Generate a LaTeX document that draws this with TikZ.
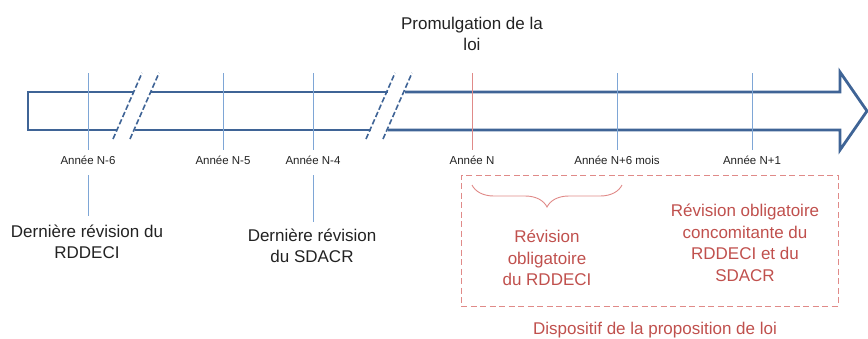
\documentclass[tikz,border=0pt]{standalone}
\usepackage{fontspec}
\setmainfont{Liberation Sans}
\usetikzlibrary{decorations.pathreplacing}
\definecolor{arrowblue}{HTML}{3F6496}
\definecolor{tickblue}{HTML}{7EA6D6}
\definecolor{txtred}{HTML}{C0504D}
\definecolor{lightred}{HTML}{E08A88}
\definecolor{txtgray}{HTML}{222222}
\tikzset{
  body/.style={draw=arrowblue, line width=2.8pt, line join=miter},
  cut/.style={draw=arrowblue, line width=1.6pt, dash pattern=on 5.5pt off 2.5pt},
  tick/.style={draw=tickblue, line width=0.9pt},
  redtick/.style={draw=lightred, line width=0.9pt},
  small/.style={font=\fontsize{11.5}{14}\selectfont, text=txtgray, inner sep=0pt},
  big/.style={font=\fontsize{17}{21.5}\selectfont, text=txtgray, align=center, inner sep=0pt},
  bigred/.style={big, text=txtred},
  redbox/.style={draw=lightred, line width=1pt, dash pattern=on 6pt off 3.5pt},
}
\begin{document}
\begin{tikzpicture}[x=1pt,y=-1pt]
\useasboundingbox (0,0) rectangle (868,338);
\clip (0,0) rectangle (868,338);
% arrow body pieces
\coordinate (t1a) at (28,92);   \coordinate (t1b) at (133.5,92);
\coordinate (b1a) at (28,130);  \coordinate (b1b) at (117,130);
\coordinate (t2a) at (151,92);  \coordinate (t2b) at (388,92);
\coordinate (b2a) at (134.5,130); \coordinate (b2b) at (371,130);
\coordinate (t3a) at (405,92);  \coordinate (b3a) at (388,130);
\coordinate (hb) at (840,92);   \coordinate (hbb) at (840,130);
\coordinate (ht) at (840,72);   \coordinate (hbt) at (840,150);
\coordinate (tip) at (867,111);
\draw[body] (t1b) -- (t1a) -- (b1a) -- (b1b);
\draw[body, line cap=butt] (t2a) -- (t2b);
\draw[body, line cap=butt] (b2a) -- (b2b);
\draw[body] (t3a) -- (hb) -- (ht) -- (tip) -- (hbt) -- (hbb) -- (b3a);
% break marks
\coordinate (c1s) at (113,139); \coordinate (c1e) at (142,73);
\coordinate (c2s) at (130,139); \coordinate (c2e) at (159,73);
\coordinate (c3s) at (366,139); \coordinate (c3e) at (395,73);
\coordinate (c4s) at (383,139); \coordinate (c4e) at (412,73);
\draw[cut] (c1s) -- (c1e);
\draw[cut] (c2s) -- (c2e);
\draw[cut] (c3s) -- (c3e);
\draw[cut] (c4s) -- (c4e);
% ticks
\coordinate (k1t) at (88,73);  \coordinate (k1b) at (88,150);
\coordinate (k2t) at (223,73); \coordinate (k2b) at (223,150);
\coordinate (k3t) at (313,73); \coordinate (k3b) at (313,150);
\coordinate (k4t) at (472,73); \coordinate (k4b) at (472,150);
\coordinate (k5t) at (617,73); \coordinate (k5b) at (617,150);
\coordinate (k6t) at (752,73); \coordinate (k6b) at (752,150);
\draw[tick] (k1t) -- (k1b);
\draw[tick] (k2t) -- (k2b);
\draw[tick] (k3t) -- (k3b);
\draw[redtick] (k4t) -- (k4b);
\draw[tick] (k5t) -- (k5b);
\draw[tick] (k6t) -- (k6b);
% tick labels
\node[small] (l1) at (88,160) {Année N-6};
\node[small] (l2) at (223,160) {Année N-5};
\node[small] (l3) at (313,160) {Année N-4};
\node[small] (l4) at (472,160) {Année N};
\node[small] (l5) at (617,160) {Année N+6 mois};
\node[small] (l6) at (752,160) {Année N+1};
% lower ticks
\coordinate (d1t) at (88,175);  \coordinate (d1b) at (88,216);
\coordinate (d3t) at (313,175); \coordinate (d3b) at (313,222);
\draw[tick] (d1t) -- (d1b);
\draw[tick] (d3t) -- (d3b);
% texts
\node[big] (promul) at (472,34) {Promulgation de la\\loi};
\node[big] (rdd) at (87,242) {Dernière révision du\\RDDECI};
\node[big] (sda) at (312,246) {Dernière révision\\du SDACR};
% red box
\node[redbox, minimum width=377pt, minimum height=131pt, inner sep=0pt] (box) at (649.5,240.5) {};
\coordinate (br1) at (472,185); \coordinate (br2) at (622,185);
\draw[draw=lightred, line width=0.9pt, decorate, decoration={brace, mirror, amplitude=22pt, aspect=0.5}] (br1) -- (br2);
\node[bigred] (rev1) at (547,258) {Révision\\obligatoire\\du RDDECI};
\node[bigred] (rev2) at (745,243) {Révision obligatoire\\concomitante du\\RDDECI et du\\SDACR};
\node[bigred] (disp) at (655,330) {Dispositif de la proposition de loi};
\end{tikzpicture}
\end{document}
